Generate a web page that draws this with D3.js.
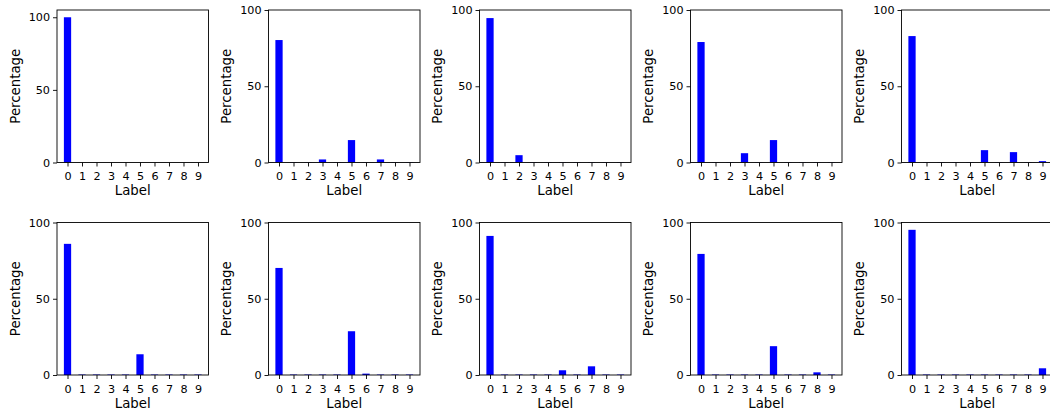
<!DOCTYPE html>
<html>
<head>
<meta charset="utf-8">
<script src="https://cdn.jsdelivr.net/npm/d3@7"></script>
<style>
  html, body { margin: 0; padding: 0; background: #fff; }
  svg { display: block; font-family: "DejaVu Sans", sans-serif; }
</style>
</head>
<body>
<div id="chart"></div>
<script>
// label categories and tick values
const labels = [0, 1, 2, 3, 4, 5, 6, 7, 8, 9];
const yTicks = [0, 50, 100];

// percentage of each label, one array per panel
const panel1 = [100, 0, 0, 0, 0, 0, 0, 0, 0, 0];
const panel2 = [80.3, 0.2, 0.2, 2.0, 0.2, 14.7, 0.2, 2.0, 0.2, 0.2];
const panel3 = [94.7, 0.2, 4.8, 0.2, 0.2, 0.2, 0.2, 0.2, 0.2, 0.2];
const panel4 = [79.0, 0.2, 0.2, 6.1, 0.2, 14.7, 0.2, 0.2, 0.2, 0.2];
const panel5 = [82.9, 0.2, 0.2, 0.2, 0.2, 8.1, 0.2, 6.8, 0.2, 0.9];
const panel6 = [86.0, 0.3, 0.3, 0.3, 0.3, 13.6, 0.3, 0.3, 0.3, 0.3];
const panel7 = [70.2, 0.3, 0.3, 0.3, 0.3, 28.7, 0.9, 0.3, 0.3, 0.3];
const panel8 = [91.2, 0.3, 0.3, 0.3, 0.3, 3.1, 0.3, 5.7, 0.3, 0.3];
const panel9 = [79.4, 0.3, 0.3, 0.3, 0.3, 18.9, 0.3, 0.3, 1.75, 0.3];
const panel10 = [95.2, 0.3, 0.3, 0.3, 0.3, 0.3, 0.3, 0.3, 0.3, 4.4];

const panels = [panel1, panel2, panel3, panel4, panel5, panel6, panel7, panel8, panel9, panel10];
// upper y limit per panel (first one is auto-scaled to 105)
const yMaxes = [105, 100, 100, 100, 100, 100, 100, 100, 100, 100];

const width = 1050;
const height = 412;
const panelW = 151.5;
const panelH = 152.5;
const lefts = [57, 268.5, 479.5, 690.5, 901.5];
const tops = [10, 222.5];
const barWidth = 0.5;

const svg = d3.select('#chart').append('svg')
    .attr('width', width)
    .attr('height', height);

panels.forEach((values, i) => {
    const col = i % 5;
    const row = Math.floor(i / 5);
    const g = svg.append('g')
        .attr('transform', `translate(${lefts[col]},${tops[row]})`);

    const xScale = d3.scaleLinear()
        .domain([-0.725, 9.725])
        .range([0, panelW]);

    const yScale = d3.scaleLinear()
        .domain([0, yMaxes[i]])
        .range([panelH, 0]);

    // bars
    g.selectAll('.bar')
        .data(values)
        .enter()
        .append('rect')
        .attr('class', 'bar')
        .attr('x', (d, j) => xScale(labels[j] - barWidth / 2))
        .attr('y', d => yScale(d))
        .attr('width', xScale(barWidth) - xScale(0))
        .attr('height', d => panelH - yScale(d))
        .attr('fill', '#0000ff');

    // axes
    const xAxis = d3.axisBottom(xScale)
        .tickValues(labels)
        .tickFormat(d3.format('d'))
        .tickSizeOuter(0)
        .tickSize(4)
        .tickPadding(6);

    const yAxis = d3.axisLeft(yScale)
        .tickValues(yTicks)
        .tickSizeOuter(0)
        .tickSize(4)
        .tickPadding(3);

    const xg = g.append('g')
        .attr('transform', `translate(0,${panelH})`)
        .call(xAxis);
    const yg = g.append('g').call(yAxis);

    [xg, yg].forEach(a => {
        a.select('.domain').remove();
        a.selectAll('line').attr('stroke', '#000').attr('stroke-width', 0.9);
        a.selectAll('text')
            .attr('fill', '#000')
            .style('font-size', '11.2px')
            .style('font-family', '"DejaVu Sans", sans-serif');
    });

    // frame
    g.append('rect')
        .attr('x', 0)
        .attr('y', 0)
        .attr('width', panelW)
        .attr('height', panelH)
        .attr('fill', 'none')
        .attr('stroke', '#000')
        .attr('stroke-width', 0.9);

    // axis titles
    g.append('text')
        .attr('x', panelW / 2)
        .attr('y', panelH + 32.5)
        .attr('text-anchor', 'middle')
        .style('font-size', '13.3px')
        .text('Label');

    g.append('text')
        .attr('transform', `translate(-37.5,${panelH / 2}) rotate(-90)`)
        .attr('text-anchor', 'middle')
        .style('font-size', '13.3px')
        .text('Percentage');
});
</script>
</body>
</html>
